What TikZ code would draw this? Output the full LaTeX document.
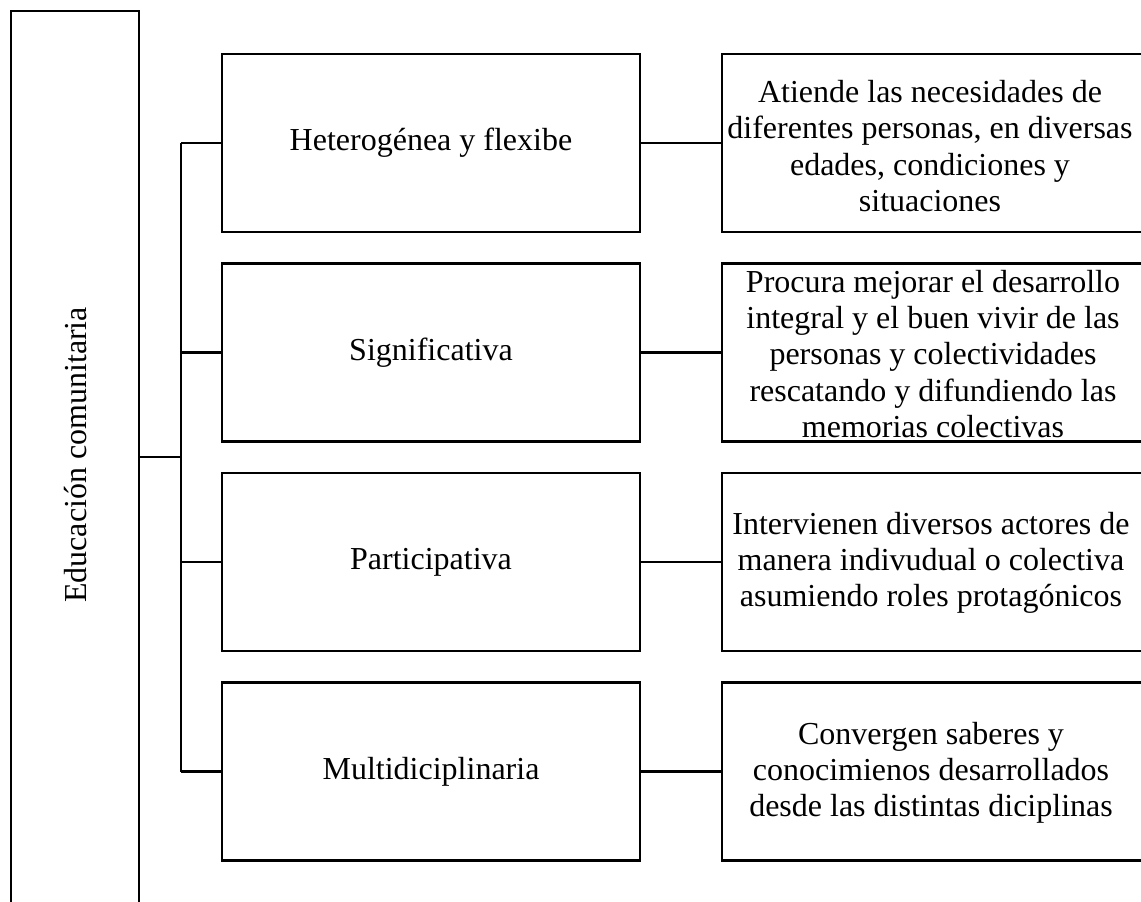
\documentclass[tikz,border=0pt]{standalone}
\usepackage{fontspec}
\setmainfont{Liberation Serif}
\begin{document}
\begin{tikzpicture}[x=1pt,y=-1pt,
  every node/.style={font=\fontsize{32}{36.2}\selectfont, inner sep=0pt},
  midbox/.style={draw, line width=2.6pt, minimum width=418pt, minimum height=178pt, align=center},
  descbox/.style={draw, line width=2.6pt, minimum width=423pt, minimum height=178pt},
  link/.style={line width=2.6pt}]
\useasboundingbox (0,0) rectangle (1141,902);
\node[draw, line width=2.6pt, minimum width=128pt, minimum height=896pt] (L) at (75,459) {};
\node[rotate=90] (Lt) at (76,455) {Educación comunitaria};

\node[midbox] (m1) at (431,143) {Heterogénea y flexibe};
\node[midbox] (m2) at (431,352.5) {Significativa};
\node[midbox] (m3) at (431,562) {Participativa};
\node[midbox] (m4) at (431,771.5) {Multidiciplinaria};

\node[descbox] (d1) at (933.5,143) {};
\node[descbox] (d2) at (933.5,352.5) {};
\node[descbox] (d3) at (933.5,562) {};
\node[descbox] (d4) at (933.5,771.5) {};

\node[align=center] (t1) at (930,146) {Atiende las necesidades de\\diferentes personas, en diversas\\edades, condiciones y\\situaciones};
\node[align=center] (t2) at (933,354) {Procura mejorar el desarrollo\\integral y el buen vivir de las\\personas y colectividades\\rescatando y difundiendo las\\memorias colectivas};
\node[align=center] (t3) at (931,563) {Intervienen diversos actores de\\manera indivudual o colectiva\\asumiendo roles protagónicos};
\node[align=center] (t4) at (931,773) {Convergen saberes y\\conocimienos desarrollados\\desde las distintas diciplinas};

\coordinate (j1) at (181,143);
\coordinate (j4) at (181,771.5);
\coordinate (j0) at (181,457);
\coordinate (l0) at (139,457);
\draw[link] (m1.west) -- (j1);
\draw[link] (m2.west) -- (j1 |- m2.west);
\draw[link] (m3.west) -- (j1 |- m3.west);
\draw[link] (m4.west) -- (j4);
\draw[link] (j1) -- (j4);
\draw[link] (L.east |- l0) -- (j0);
\draw[link] (m1.east) -- (d1.west);
\draw[link] (m2.east) -- (d2.west);
\draw[link] (m3.east) -- (d3.west);
\draw[link] (m4.east) -- (d4.west);
\end{tikzpicture}
\end{document}
